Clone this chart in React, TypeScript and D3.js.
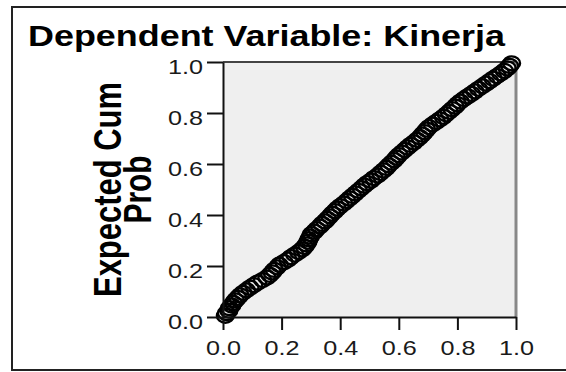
import React, { useEffect, useRef } from 'react';
import * as d3 from 'd3';

// expected cumulative probability (y)
const expectedCum = [
  0.005, 0.015, 0.025, 0.035, 0.045, 0.055, 0.065, 0.075, 0.085, 0.095,
  0.105, 0.115, 0.125, 0.135, 0.145, 0.155, 0.165, 0.175, 0.185, 0.195,
  0.205, 0.215, 0.225, 0.235, 0.245, 0.255, 0.265, 0.275, 0.285, 0.295,
  0.305, 0.315, 0.325, 0.335, 0.345, 0.355, 0.365, 0.375, 0.385, 0.395,
  0.405, 0.415, 0.425, 0.435, 0.445, 0.455, 0.465, 0.475, 0.485, 0.495,
  0.505, 0.515, 0.525, 0.535, 0.545, 0.555, 0.565, 0.575, 0.585, 0.595,
  0.605, 0.615, 0.625, 0.635, 0.645, 0.655, 0.665, 0.675, 0.685, 0.695,
  0.705, 0.715, 0.725, 0.735, 0.745, 0.755, 0.765, 0.775, 0.785, 0.795,
  0.805, 0.815, 0.825, 0.835, 0.845, 0.855, 0.865, 0.875, 0.885, 0.895,
  0.905, 0.915, 0.925, 0.935, 0.945, 0.955, 0.965, 0.975, 0.985, 0.995,
];
// observed cumulative probability (x)
const observedCum = [
  0.008, 0.012, 0.020, 0.022, 0.030, 0.035, 0.042, 0.050, 0.058, 0.068,
  0.080, 0.092, 0.105, 0.118, 0.135, 0.150, 0.160, 0.168, 0.175, 0.185,
  0.192, 0.208, 0.222, 0.232, 0.245, 0.258, 0.270, 0.278, 0.285, 0.290,
  0.293, 0.298, 0.302, 0.312, 0.320, 0.330, 0.338, 0.348, 0.356, 0.365,
  0.372, 0.382, 0.390, 0.400, 0.412, 0.422, 0.432, 0.442, 0.452, 0.462,
  0.472, 0.482, 0.492, 0.505, 0.515, 0.528, 0.538, 0.548, 0.558, 0.566,
  0.575, 0.585, 0.592, 0.600, 0.610, 0.620, 0.630, 0.640, 0.652, 0.662,
  0.672, 0.680, 0.688, 0.695, 0.703, 0.715, 0.728, 0.740, 0.752, 0.762,
  0.772, 0.782, 0.792, 0.800, 0.810, 0.822, 0.835, 0.848, 0.860, 0.872,
  0.885, 0.898, 0.910, 0.922, 0.935, 0.948, 0.960, 0.970, 0.978, 0.985,
];
const tickValues = [0, 0.2, 0.4, 0.6, 0.8, 1.0];

const title = 'Dependent Variable: Kinerja';
const yLabelLines = ['Expected Cum', 'Prob'];

const FONT = '"Liberation Sans", Arial, sans-serif';

const App = () => {
  const ref = useRef<SVGSVGElement | null>(null);

  useEffect(() => {
    const svg = d3.select(ref.current);
    svg.selectAll('*').remove();

    const plot = { left: 223, right: 516, top: 62, bottom: 317 };

    const x = d3.scaleLinear().domain([0, 1]).range([plot.left, plot.right]);
    const y = d3.scaleLinear().domain([0, 1]).range([plot.bottom, plot.top]);

    const defs = svg.append('defs');
    defs.append('filter').attr('id', 'soft')
      .append('feGaussianBlur').attr('stdDeviation', 0.6);

    // outer frame
    svg.append('rect')
      .attr('x', 12).attr('y', 7)
      .attr('width', 600).attr('height', 363)
      .attr('fill', 'white')
      .attr('stroke', '#222').attr('stroke-width', 2);

    // title
    svg.append('text')
      .attr('x', 28).attr('y', 46)
      .attr('font-family', FONT)
      .attr('font-weight', 'bold')
      .attr('font-size', 30)
      .attr('textLength', 477)
      .attr('lengthAdjust', 'spacingAndGlyphs')
      .text(title);

    // plot background
    svg.append('rect')
      .attr('x', plot.left).attr('y', plot.top)
      .attr('width', plot.right - plot.left)
      .attr('height', plot.bottom - plot.top)
      .attr('fill', '#efefef');

    // top and right edges
    svg.append('line')
      .attr('x1', plot.left).attr('x2', plot.right)
      .attr('y1', plot.top).attr('y2', plot.top)
      .attr('stroke', '#444').attr('stroke-width', 2);
    svg.append('line')
      .attr('x1', plot.right).attr('x2', plot.right)
      .attr('y1', plot.top).attr('y2', plot.bottom)
      .attr('stroke', '#888').attr('stroke-width', 3);

    // points
    svg.append('g')
      .attr('filter', 'url(#soft)')
      .selectAll('ellipse')
      .data(observedCum.map((o, i) => ({ o, e: expectedCum[i] })))
      .join('ellipse')
      .attr('cx', d => x(d.o))
      .attr('cy', d => y(d.e))
      .attr('rx', 8.5)
      .attr('ry', 7)
      .attr('fill', 'none')
      .attr('stroke', '#000')
      .attr('stroke-width', 2.3);

    const fmt = d3.format('.1f');

    // y axis
    svg.append('g')
      .attr('transform', `translate(${plot.left},0)`)
      .call(d3.axisLeft(y).tickValues(tickValues).tickFormat(fmt as any).tickSize(16).tickPadding(4).tickSizeOuter(0))
      .call(g => g.select('.domain').attr('stroke', '#111').attr('stroke-width', 2))
      .call(g => g.selectAll('.tick line').attr('stroke', '#111').attr('stroke-width', 2))
      .call(g => g.selectAll('.tick text')
        .attr('font-family', FONT)
        .attr('font-size', 20)
        .attr('fill', '#1a1a1a')
        .attr('dy', 11)
        .attr('textLength', 35)
        .attr('lengthAdjust', 'spacingAndGlyphs'));

    // x axis
    svg.append('g')
      .attr('transform', `translate(0,${plot.bottom})`)
      .call(d3.axisBottom(x).tickValues(tickValues).tickFormat(fmt as any).tickSize(13).tickSizeOuter(0))
      .call(g => g.select('.domain').attr('stroke', '#111').attr('stroke-width', 2))
      .call(g => g.selectAll('.tick line').attr('stroke', '#111').attr('stroke-width', 2))
      .call(g => g.selectAll('.tick text')
        .attr('font-family', FONT)
        .attr('font-size', 20)
        .attr('fill', '#1a1a1a')
        .attr('y', 38)
        .attr('dy', 0)
        .attr('textLength', 35)
        .attr('lengthAdjust', 'spacingAndGlyphs'));

    // y axis title, two lines
    const cy = (plot.top + plot.bottom) / 2;
    yLabelLines.forEach((line, i) => {
      svg.append('text')
        .attr('transform', `translate(${i === 0 ? 121 : 151},${cy}) scale(1.28,1) rotate(-90)`)
        .attr('text-anchor', 'middle')
        .attr('font-family', FONT)
        .attr('font-weight', 'bold')
        .attr('font-size', 30)
        .attr('textLength', i === 0 ? 215 : 68)
        .attr('lengthAdjust', 'spacingAndGlyphs')
        .text(line);
    });
  }, []);

  return (
    <svg
      ref={ref}
      width={566}
      height={372}
      style={{ position: 'absolute', left: 0, top: 0, background: 'white' }}
    />
  );
};

export default App;
